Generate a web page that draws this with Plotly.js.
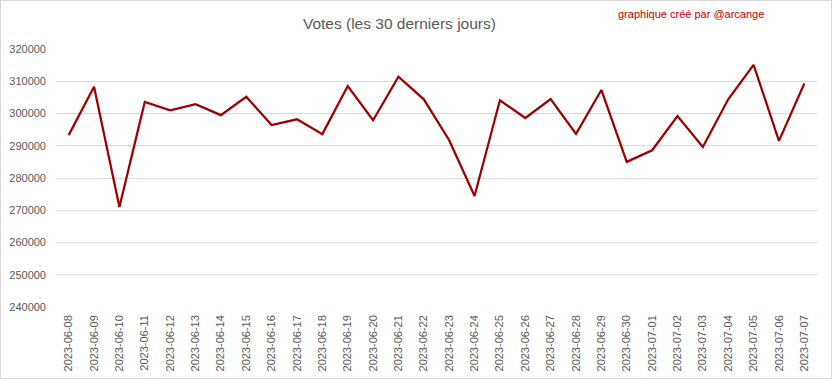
<!DOCTYPE html>
<html>
<head>
<meta charset="utf-8">
<script src="https://cdn.plot.ly/plotly-3.0.1.min.js"></script>
<style>
html,body{margin:0;padding:0;background:#fff;}
#chart{width:830px;height:377px;border:1px solid #d9d9d9;}
</style>
</head>
<body>
<div id="chart"></div>
<script>
const dates = [
  "2023-06-08","2023-06-09","2023-06-10","2023-06-11","2023-06-12","2023-06-13",
  "2023-06-14","2023-06-15","2023-06-16","2023-06-17","2023-06-18","2023-06-19",
  "2023-06-20","2023-06-21","2023-06-22","2023-06-23","2023-06-24","2023-06-25",
  "2023-06-26","2023-06-27","2023-06-28","2023-06-29","2023-06-30","2023-07-01",
  "2023-07-02","2023-07-03","2023-07-04","2023-07-05","2023-07-06","2023-07-07"
];
const votes = [
  293300, 308300, 271000, 303600, 301000, 302900,
  299500, 305200, 296400, 298200, 293600, 308500,
  297900, 311400, 304400, 291700, 274400, 304100,
  298600, 304500, 293700, 307300, 285000, 288600,
  299200, 289600, 304400, 315100, 291500, 309300
];
const yTicks = [240000, 250000, 260000, 270000, 280000, 290000, 300000, 310000, 320000];

const trace = {
  x: dates,
  y: votes,
  type: 'scatter',
  mode: 'lines',
  line: {color: '#9c0000', width: 2.25},
  hoverinfo: 'x+y'
};

const layout = {
  width: 830,
  height: 377,
  margin: {l: 55, r: 14, t: 48, b: 71},
  paper_bgcolor: '#ffffff',
  plot_bgcolor: '#ffffff',
  font: {family: 'Liberation Sans, Arial, sans-serif', size: 11, color: '#595959'},
  title: {
    text: 'Votes (les 30 derniers jours)',
    font: {family: 'Liberation Sans, Arial, sans-serif', size: 15.5, color: '#595959'},
    x: 0.48, xanchor: 'center', y: 0.94, yanchor: 'middle'
  },
  showlegend: false,
  xaxis: {
    type: 'category',
    range: [-0.5, dates.length - 0.5],
    tickangle: -90,
    showgrid: false,
    showline: false,
    zeroline: false,
    ticks: '',
    ticklabelstandoff: 5,
    tickfont: {size: 11, color: '#595959'}
  },
  yaxis: {
    range: [240000, 320000],
    tickvals: yTicks,
    ticktext: yTicks.map(String),
    showgrid: true,
    gridcolor: '#d9d9d9',
    gridwidth: 1,
    zeroline: false,
    showline: false,
    ticks: '',
    ticklabelstandoff: 9,
    tickfont: {size: 11, color: '#595959'}
  },
  annotations: [{
    text: 'graphique créé par @arcange',
    xref: 'paper', yref: 'paper',
    x: 0.933, y: 1.135, xanchor: 'right', yanchor: 'middle',
    showarrow: false,
    font: {family: 'Liberation Sans, Arial, sans-serif', size: 11, color: '#c00000'}
  }]
};

Plotly.newPlot('chart', [trace], layout, {displayModeBar: false, staticPlot: true});
</script>
</body>
</html>
